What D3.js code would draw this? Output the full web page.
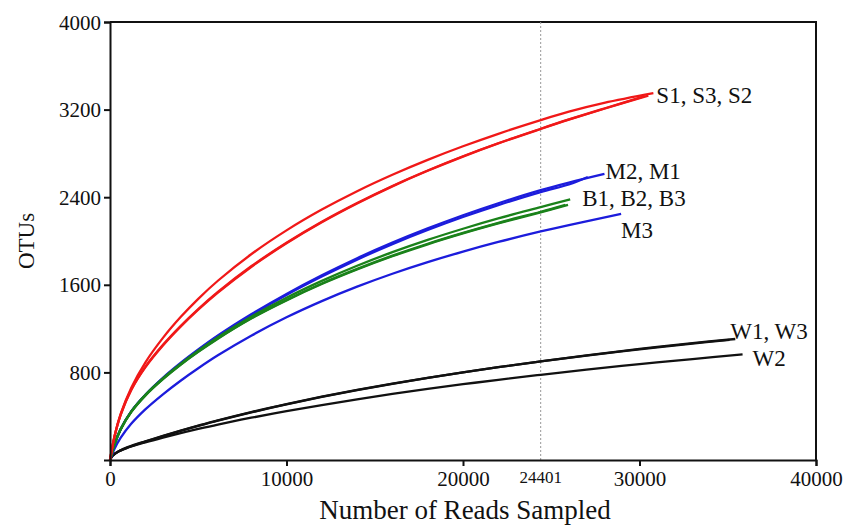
<!DOCTYPE html>
<html>
<head>
<meta charset="utf-8">
<script src="https://cdn.jsdelivr.net/npm/d3@7"></script>
<style>
  body { margin: 0; background: #fff; }
  text { font-family: "Liberation Serif", "Times New Roman", serif; fill: #111; }
</style>
</head>
<body>
<div id="chart"></div>
<script>
// rarefaction curves, values
var xTicks = [0, 10000, 20000, 30000, 40000];
var yTicks = [800, 1600, 2400, 3200, 4000];
var cutoff = 24401;

var s1 = [[0,0],[250,215],[600,418],[1200,658],[2000,890],[3000,1115],[4000,1305],[5000,1472],[6112,1637],[8000,1879],[10000,2097],[12000,2287],[14000,2455],[16000,2605],[18000,2741],[20000,2865],[22000,2979],[24401,3104],[26000,3181],[28000,3261],[30786,3350]];
var s3 = [[0,0],[250,210],[600,410],[1200,638],[2000,846],[3000,1046],[4000,1218],[5000,1373],[6112,1529],[8000,1763],[10000,1979],[12000,2171],[14000,2343],[16000,2499],[18000,2641],[20000,2771],[22000,2891],[24401,3023],[26000,3108],[28000,3208],[30500,3328]];
var s2 = [[0,0],[250,211],[600,412],[1200,642],[2000,851],[3000,1052],[4000,1224],[5000,1379],[6112,1535],[8000,1769],[10000,1984],[12000,2176],[14000,2347],[16000,2503],[18000,2644],[20000,2774],[22000,2893],[24401,3025],[26000,3110],[28000,3210],[30200,3318]];

var m1 = [[0,0],[250,141],[600,280],[1200,442],[2000,593],[3000,747],[4000,881],[5000,1003],[6112,1130],[8000,1322],[10000,1507],[12000,1675],[14000,1830],[16000,1971],[18000,2100],[20000,2219],[22000,2328],[24401,2447],[26000,2516],[27070,2585]];
var m2 = [[0,0],[250,142],[600,282],[1200,444],[2000,596],[3000,751],[4000,886],[5000,1009],[6112,1137],[8000,1331],[10000,1517],[12000,1687],[14000,1843],[16000,1985],[18000,2115],[20000,2235],[22000,2345],[24401,2465],[26000,2534],[28015,2613]];
var m3 = [[0,0],[250,100],[600,201],[1200,330],[2000,462],[3000,600],[4000,724],[5000,838],[6112,956],[8000,1135],[10000,1303],[12000,1451],[14000,1583],[16000,1701],[18000,1807],[20000,1903],[22000,1991],[24401,2087],[26000,2146],[28958,2247]];

var b1 = [[0,0],[250,140],[600,280],[1200,442],[2000,594],[3000,746],[4000,878],[5000,998],[6112,1121],[8000,1308],[10000,1482],[12000,1636],[14000,1774],[16000,1898],[18000,2010],[20000,2112],[22000,2206],[24401,2309],[26073,2380]];
var b2 = [[0,0],[250,138],[600,276],[1200,437],[2000,588],[3000,738],[4000,869],[5000,987],[6112,1108],[8000,1292],[10000,1458],[12000,1607],[14000,1740],[16000,1861],[18000,1970],[20000,2069],[22000,2160],[24401,2262],[25950,2330]];
var b3 = [[0,0],[250,139],[600,278],[1200,439],[2000,590],[3000,741],[4000,872],[5000,990],[6112,1111],[8000,1295],[10000,1462],[12000,1612],[14000,1745],[16000,1866],[18000,1975],[20000,2074],[22000,2166],[24401,2267],[25800,2330]];

var w1 = [[0,0],[150,40],[500,79],[1000,114],[2000,168],[3000,218],[4000,266],[5000,311],[6112,359],[8000,434],[10000,508],[12000,576],[14000,638],[16000,696],[18000,750],[20000,800],[22000,848],[24401,901],[27000,956],[30000,1014],[33000,1068],[35427,1105]];
var w3 = [[0,0],[150,41],[500,81],[1000,117],[2000,171],[3000,221],[4000,269],[5000,314],[6112,362],[8000,437],[10000,510],[12000,578],[14000,640],[16000,697],[18000,751],[20000,801],[22000,848],[24401,900],[27000,954],[30000,1011],[33000,1063],[35100,1098]];
var w2 = [[0,0],[150,40],[500,79],[1000,112],[2000,161],[3000,205],[4000,246],[5000,284],[6112,324],[8000,386],[10000,446],[12000,502],[14000,554],[16000,603],[18000,649],[20000,692],[22000,732],[24401,778],[27000,825],[30000,876],[33000,922],[35840,965]];

var series = [
  {name: "W1", color: "#111", data: w1},
  {name: "W3", color: "#111", data: w3},
  {name: "W2", color: "#111", data: w2},
  {name: "M1", color: "#1c1cdc", data: m1},
  {name: "M2", color: "#1c1cdc", data: m2},
  {name: "M3", color: "#1c1cdc", data: m3},
  {name: "B1", color: "#1a821a", data: b1},
  {name: "B2", color: "#1a821a", data: b2},
  {name: "B3", color: "#1a821a", data: b3},
  {name: "S1", color: "#f01818", data: s1},
  {name: "S3", color: "#f01818", data: s3},
  {name: "S2", color: "#f01818", data: s2}
];

// group labels at curve ends
var labels = [
  {text: "S1, S3, S2", at: [30786, 3350], dx: 3, dy: 10},
  {text: "M2, M1", at: [28015, 2613], dx: 1, dy: 5},
  {text: "B1, B2, B3", at: [26073, 2380], dx: 12, dy: 7},
  {text: "M3", at: [28958, 2247], dx: 0, dy: 24},
  {text: "W1, W3", at: [35427, 1105], dx: -5, dy: 0},
  {text: "W2", at: [35840, 965], dx: 10, dy: 12}
];

var width = 846, height = 528;
var svg = d3.select("#chart").append("svg")
  .attr("width", width)
  .attr("height", height);

var x = d3.scaleLinear().domain([0, 40000]).range([110, 816]);
var y = d3.scaleLinear().domain([0, 4000]).range([460, 22]);

// frame: top and right border
svg.append("path")
  .attr("d", "M" + x(0) + "," + y(4000) + "H" + x(40000) + "V" + y(0))
  .attr("fill", "none").attr("stroke", "#111").attr("stroke-width", 2);

// cutoff line
svg.append("line")
  .attr("x1", x(cutoff)).attr("x2", x(cutoff))
  .attr("y1", y(4000)).attr("y2", y(0))
  .attr("stroke", "#999").attr("stroke-width", 1)
  .attr("stroke-dasharray", "2,2");

var line = d3.line()
  .x(function(d) { return x(d[0]); })
  .y(function(d) { return y(d[1]); })
  .curve(d3.curveCatmullRom.alpha(0.5));

svg.append("g").selectAll("path")
  .data(series)
  .enter().append("path")
  .attr("d", function(d) { return line(d.data); })
  .attr("fill", "none")
  .attr("stroke", function(d) { return d.color; })
  .attr("stroke-width", 2.3);

// axes
var xAxis = svg.append("g")
  .attr("transform", "translate(0," + y(0) + ")")
  .call(d3.axisBottom(x).tickValues(xTicks).tickFormat(d3.format("d")).tickSize(6).tickPadding(5));
var yAxis = svg.append("g")
  .attr("transform", "translate(" + x(0) + ",0)")
  .call(d3.axisLeft(y).tickValues(yTicks).tickFormat(d3.format("d")).tickSize(6).tickPadding(3));

[xAxis, yAxis].forEach(function(g) {
  g.select(".domain").attr("stroke", "#111").attr("stroke-width", 2);
  g.selectAll(".tick line").attr("stroke", "#111").attr("stroke-width", 2);
  g.selectAll(".tick text").style("font-size", "21px").attr("fill", "#111")
    .style("font-family", "'Liberation Serif', serif");
});
yAxis.selectAll(".tick text").attr("dy", "0.34em");

svg.append("text")
  .attr("x", x(cutoff))
  .attr("y", 483)
  .attr("text-anchor", "middle")
  .style("font-size", "17px")
  .text(cutoff);

svg.append("g").selectAll("text")
  .data(labels)
  .enter().append("text")
  .attr("x", function(d) { return x(d.at[0]) + d.dx; })
  .attr("y", function(d) { return y(d.at[1]) + d.dy; })
  .style("font-size", "23px")
  .text(function(d) { return d.text; });

// axis titles
svg.append("text")
  .attr("x", x(20000) + 2)
  .attr("y", 519)
  .attr("text-anchor", "middle")
  .style("font-size", "27px")
  .text("Number of Reads Sampled");

svg.append("text")
  .attr("transform", "translate(34," + y(2000) + ") rotate(-90)")
  .attr("text-anchor", "middle")
  .style("font-size", "23px")
  .text("OTUs");
</script>
</body>
</html>
